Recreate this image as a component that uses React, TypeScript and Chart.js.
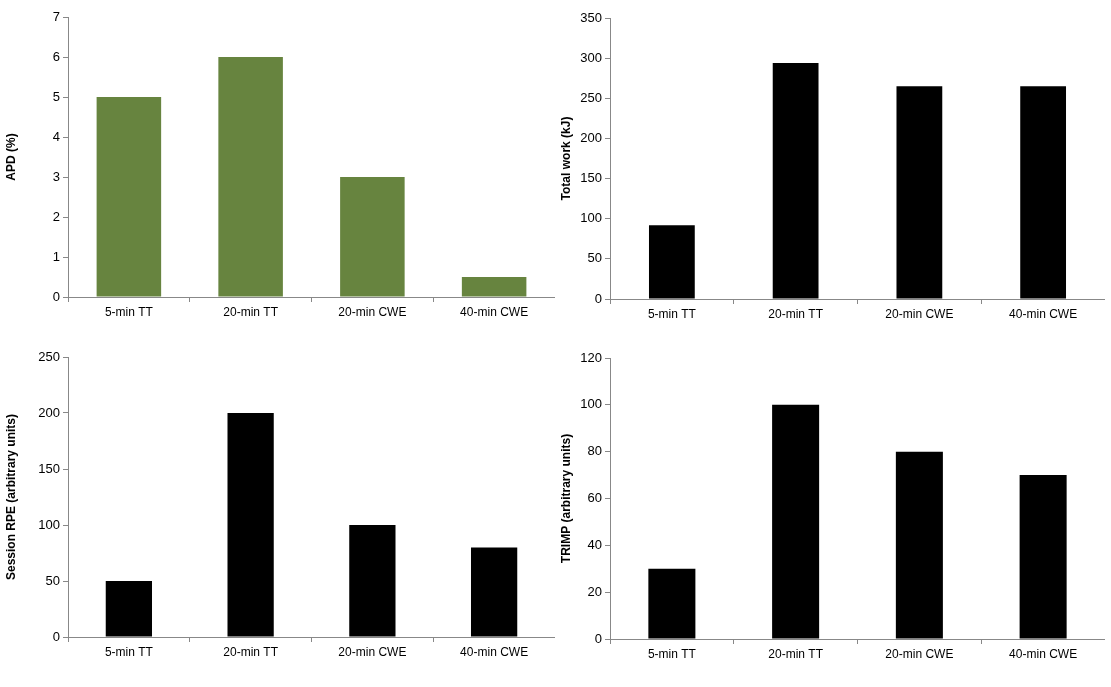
import React, { useEffect, useRef } from "react";
import { Chart, registerables } from "chart.js";
Chart.register(...registerables);

const categories = ["5-min TT", "20-min TT", "20-min CWE", "40-min CWE"];
const apdValues = [5, 6, 3, 0.5];
const workValues = [92, 294, 265, 265];
const rpeValues = [50, 200, 100, 80];
const trimpValues = [30, 100, 80, 70];

type P = { values: number[]; color: string; title: string; max: number; step: number; bar: number; yW: number; top: number; left: number; w: number; h: number; padTop: number };

const panels: P[] = [
  { values: apdValues, color: "#67843f", title: "APD (%)", max: 7, step: 1, bar: 0.53, yW: 68, top: 0, left: 0, w: 555, h: 330, padTop: 17 },
  { values: workValues, color: "#000000", title: "Total work (kJ)", max: 350, step: 50, bar: 0.37, yW: 55, top: 0, left: 555, w: 550, h: 332, padTop: 18 },
  { values: rpeValues, color: "#000000", title: "Session RPE (arbitrary units)", max: 250, step: 50, bar: 0.38, yW: 68, top: 340, left: 0, w: 555, h: 330, padTop: 17 },
  { values: trimpValues, color: "#000000", title: "TRIMP (arbitrary units)", max: 120, step: 20, bar: 0.38, yW: 55, top: 340, left: 555, w: 550, h: 332, padTop: 18 },
];

function Panel({ p }: { p: P }) {
  const ref = useRef<HTMLCanvasElement>(null);
  useEffect(() => {
    const font = { family: "'Liberation Sans', Arial, sans-serif", size: 13 };
    const c = new Chart(ref.current!, {
      type: "bar",
      data: { labels: categories, datasets: [{ data: p.values, backgroundColor: p.color, barPercentage: p.bar, categoryPercentage: 1 }] },
      options: {
        animation: false, responsive: false, maintainAspectRatio: false,
        layout: { padding: { top: p.padTop, right: 0 } },
        plugins: { legend: { display: false }, tooltip: { enabled: false } },
        scales: {
          x: {
            grid: { drawOnChartArea: false, drawTicks: true, tickLength: 5, offset: true, color: "#888" },
            border: { color: "#888" },
            ticks: { color: "#000", font: { ...font, size: 12 }, maxRotation: 0 },
            afterFit: (s: any) => { s.height = 33; },
          },
          y: {
            min: 0, max: p.max,
            grid: { drawOnChartArea: false, drawTicks: true, tickLength: 5, color: "#888" },
            border: { color: "#888" },
            ticks: { stepSize: p.step, color: "#000", font },
            title: { display: true, text: p.title, color: "#000", font: { ...font, size: 12, weight: "bold" } },
            afterFit: (s: any) => { s.width = p.yW; },
          },
        },
      },
    } as any);
    return () => c.destroy();
  }, []);
  return <canvas ref={ref} width={p.w} height={p.h} style={{ position: "absolute", left: p.left, top: p.top, width: p.w, height: p.h }} />;
}

export default function App() {
  return <div style={{ position: "absolute", left: 0, top: 0, width: 1111, height: 687, background: "#fff" }}>
    {panels.map((p, i) => <Panel key={i} p={p} />)}
  </div>;
}
